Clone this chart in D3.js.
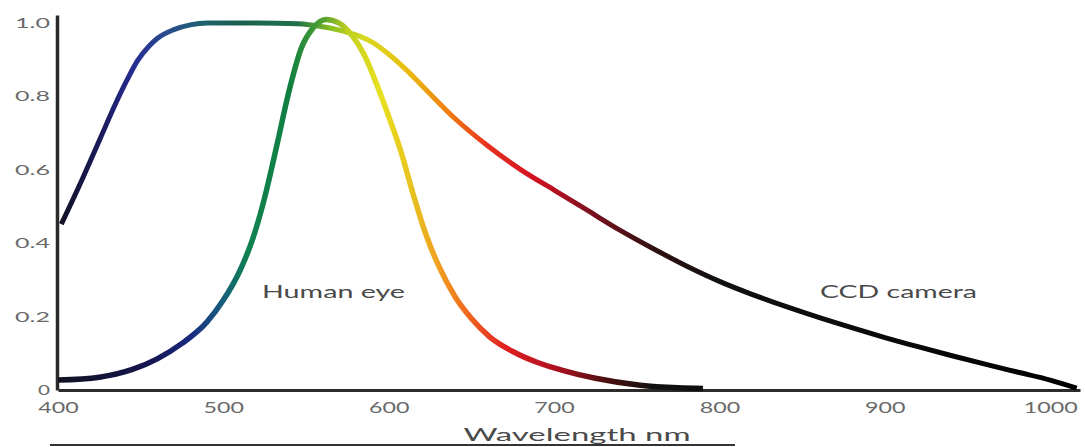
<!DOCTYPE html>
<html>
<head>
<meta charset="utf-8">
<script src="https://cdn.jsdelivr.net/npm/d3@7"></script>
<style>
  body { margin: 0; background: #fff; }
  svg { display: block; }
</style>
</head>
<body>
<div id="chart"></div>
<script>
// data
const xTicks = [400, 500, 600, 700, 800, 900, 1000];
const yTicks = [0, 0.2, 0.4, 0.6, 0.8, 1.0];
const yTickLabels = ["0", "0.2", "0.4", "0.6", "0.8", "1.0"];

const ccdWavelengths = [402, 415, 425, 435, 442, 448, 455, 460, 470, 480, 490, 520, 545, 560, 575, 590, 600, 610, 620, 640, 660, 680, 700, 720, 740, 760, 780, 800, 820, 840, 860, 880, 900, 920, 940, 960, 980, 1000, 1016];
const ccdValues      = [0.452, 0.578, 0.68, 0.782, 0.847, 0.897, 0.937, 0.958, 0.982, 0.995, 1.0, 1.0, 0.998, 0.99, 0.975, 0.948, 0.915, 0.875, 0.83, 0.74, 0.665, 0.60, 0.545, 0.49, 0.435, 0.385, 0.338, 0.296, 0.26, 0.228, 0.198, 0.17, 0.143, 0.118, 0.094, 0.071, 0.049, 0.027, 0.005];

const eyeWavelengths = [400, 425, 445, 460, 475, 490, 500, 510, 518, 525, 532, 540, 547, 554, 562, 570, 578, 585, 593, 600, 607, 615, 622, 630, 640, 650, 661, 675, 690, 704, 725, 752, 775, 790];
const eyeValues      = [0.027, 0.035, 0.056, 0.085, 0.127, 0.185, 0.245, 0.325, 0.415, 0.525, 0.66, 0.82, 0.93, 0.985, 1.01, 1.0, 0.965, 0.915, 0.83, 0.745, 0.655, 0.53, 0.43, 0.34, 0.255, 0.195, 0.145, 0.105, 0.075, 0.055, 0.032, 0.013, 0.006, 0.004];

const seriesLabels = ["Human eye", "CCD camera"];
const xTitle = "Wavelength nm";

const width = 1085, height = 447;
const font = "Lato, 'Open Sans', sans-serif";

const svg = d3.select("#chart").append("svg")
  .attr("width", width)
  .attr("height", height);

const x = d3.scaleLinear().domain([400, 1018]).range([58, 1080]);
const y = d3.scaleLinear().domain([0, 1.022]).range([390, 15]);

// spectral gradients, stops given as [wavelength, colour]
const defs = svg.append("defs");
function addGradient(id, stops) {
  const g = defs.append("linearGradient")
    .attr("id", id)
    .attr("gradientUnits", "userSpaceOnUse")
    .attr("x1", x(400)).attr("x2", x(1018))
    .attr("y1", 0).attr("y2", 0);
  stops.forEach(s => {
    g.append("stop")
      .attr("offset", (s[0] - 400) / 618)
      .attr("stop-color", s[1]);
  });
}
addGradient("ccdGrad", [
  [400, "#111122"], [425, "#1a1a5a"], [445, "#262c90"], [465, "#2a4a90"],
  [485, "#1f6070"], [510, "#1a6050"], [545, "#20704a"], [565, "#8ac020"],
  [585, "#d8d820"], [610, "#e8c010"], [635, "#f08010"], [660, "#e83020"],
  [690, "#d01020"], [720, "#801020"], [760, "#301010"], [800, "#111111"], [1018, "#000000"]
]);
addGradient("eyeGrad", [
  [400, "#111122"], [455, "#141450"], [480, "#1a2a80"], [500, "#15607a"],
  [515, "#108050"], [540, "#108040"], [560, "#50a030"], [575, "#c0d020"],
  [595, "#e8e020"], [615, "#e8c020"], [630, "#f0a020"], [650, "#f06020"],
  [670, "#e02020"], [700, "#b01020"], [730, "#501010"], [760, "#111111"], [1018, "#000000"]
]);

// axes
const xAxis = svg.append("g")
  .attr("transform", `translate(0,${y(0)})`)
  .call(d3.axisBottom(x).tickValues(xTicks).tickFormat(d => String(d))
    .tickSize(0).tickSizeOuter(0).tickPadding(12));
xAxis.attr("font-family", font).attr("font-size", 16);
xAxis.select(".domain").attr("stroke", "#2b2b2b").attr("stroke-width", 3);
xAxis.selectAll("text")
  .attr("fill", "#6a6a6a")
  .attr("textLength", d => String(d).length * 13.5)
  .attr("lengthAdjust", "spacingAndGlyphs");

const yAxis = svg.append("g")
  .attr("transform", `translate(${x(400) - 1},0)`)
  .call(d3.axisLeft(y).tickValues(yTicks).tickFormat((d, i) => yTickLabels[i])
    .tickSize(0).tickSizeOuter(0).tickPadding(7));
yAxis.attr("font-family", font).attr("font-size", 14);
yAxis.select(".domain").attr("stroke", "#2b2b2b").attr("stroke-width", 3.5);
yAxis.selectAll("text")
  .attr("fill", "#6a6a6a")
  .attr("textLength", (d, i) => yTickLabels[i].length === 1 ? 12 : 35)
  .attr("lengthAdjust", "spacingAndGlyphs");

// curves
const line = d3.line()
  .x(d => x(d[0]))
  .y(d => y(d[1]))
  .curve(d3.curveMonotoneX);

svg.append("path")
  .datum(d3.zip(ccdWavelengths, ccdValues))
  .attr("d", line)
  .attr("fill", "none")
  .attr("stroke", "url(#ccdGrad)")
  .attr("stroke-width", 5);

svg.append("path")
  .datum(d3.zip(eyeWavelengths, eyeValues))
  .attr("d", line)
  .attr("fill", "none")
  .attr("stroke", "url(#eyeGrad)")
  .attr("stroke-width", 5.5);

// series labels
svg.append("text")
  .attr("x", 262).attr("y", 298)
  .attr("font-family", font).attr("font-size", 17)
  .attr("fill", "#4a4a4a")
  .attr("textLength", 143).attr("lengthAdjust", "spacingAndGlyphs")
  .text(seriesLabels[0]);

svg.append("text")
  .attr("x", 820).attr("y", 298)
  .attr("font-family", font).attr("font-size", 17)
  .attr("fill", "#4a4a4a")
  .attr("textLength", 157).attr("lengthAdjust", "spacingAndGlyphs")
  .text(seriesLabels[1]);

// axis title with the rule under it
svg.append("line")
  .attr("x1", 50).attr("x2", 735)
  .attr("y1", 445).attr("y2", 445)
  .attr("stroke", "#333").attr("stroke-width", 2);

svg.append("text")
  .attr("x", 577).attr("y", 441)
  .attr("text-anchor", "middle")
  .attr("font-family", font).attr("font-size", 18)
  .attr("fill", "#4a4a4a")
  .attr("textLength", 227).attr("lengthAdjust", "spacingAndGlyphs")
  .text(xTitle);
</script>
</body>
</html>
